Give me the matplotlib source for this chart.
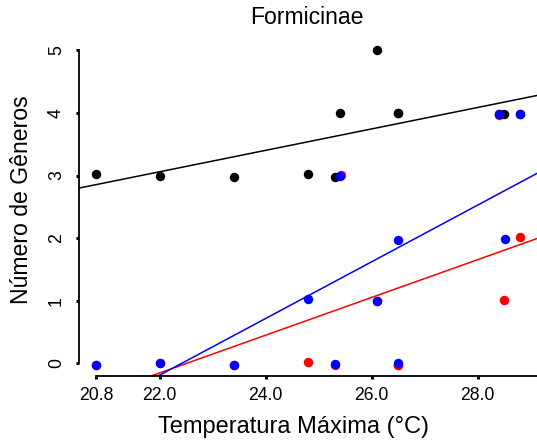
import numpy as np
import matplotlib
matplotlib.use("Agg")
import matplotlib.pyplot as plt

plt.rcParams['font.family'] = ['Liberation Sans', 'DejaVu Sans']

# temperatura maxima por ponto e numero de generos
temp_total = [20.8, 22.0, 23.4, 24.8, 25.3, 25.4, 26.1, 26.5, 26.5, 28.5, 28.4, 28.8]
gen_total = [3.02, 3.00, 2.98, 3.02, 2.97, 4.00, 5.01, 4.00, 4.00, 3.98, 3.98, 3.98]

temp_red = [20.8, 22.0, 23.4, 24.8, 25.3, 25.42, 26.1, 26.5, 26.5, 28.5, 28.4, 28.8]
gen_red = [-0.03, 0.00, -0.03, 0.03, -0.02, 3.01, 1.00, -0.03, -0.03, 1.02, 3.97, 2.02]

temp_blue = [20.8, 22.0, 23.4, 24.8, 25.3, 25.4, 26.1, 26.5, 26.5, 28.52, 28.4, 28.8]
gen_blue = [-0.02, 0.01, -0.02, 1.03, -0.01, 2.99, 0.99, 1.97, 0.00, 1.99, 3.98, 3.98]

xticks = [20.8, 22.0, 24.0, 26.0, 28.0]
yticks = [0, 1, 2, 3, 4, 5]

fig = plt.figure(figsize=(5.37, 4.46), dpi=100)
W, H = 537, 446
ax = fig.add_axes([79/W, 1-376/H, (537-79)/W, (376-37.8)/H])

xlim = (20.48, 29.12)
ylim = (-0.2, 5.2)

series = [(temp_total, gen_total, 'black'),
          (temp_red, gen_red, 'red'),
          (temp_blue, gen_blue, 'blue')]

for xs, ys, c in series:
    ax.plot(xs, ys, 'o', color=c, markersize=6.8, markeredgewidth=0, zorder=3)

# retas de regressao
xx = np.array(xlim)
for xs, ys, c in series:
    b, a = np.polyfit(np.array(xs), np.round(ys), 1)
    ax.plot(xx, a + b*xx, color=c, lw=1.1, zorder=2)

ax.set_xlim(*xlim)
ax.set_ylim(*ylim)

for s in ['top', 'right']:
    ax.spines[s].set_visible(False)
ax.spines['left'].set_bounds(0, 5)
ax.spines['bottom'].set_bounds(20.8, xlim[1])
for s in ['left', 'bottom']:
    ax.spines[s].set_linewidth(1.3)

ax.set_xticks(xticks)
ax.set_xticklabels(['%.1f' % t for t in xticks])
ax.set_yticks(yticks)
ax.set_yticklabels([str(t) for t in yticks], rotation=90, va='center')
ax.tick_params(axis='both', length=2, width=2.2, labelsize=12.7, color='black')
ax.tick_params(axis='x', pad=6)
ax.tick_params(axis='y', pad=8)

fig.text(307/W, 1-18/H, 'Formicinae', ha='center', va='center', fontsize=16.6)
fig.text(294/W, 1-427/H, 'Temperatura Máxima (°C)', ha='center', va='center', fontsize=17)
fig.text(22/W, 1-200/H, 'Número de Gêneros', ha='center', va='center', fontsize=16.6, rotation=90)

fig.savefig('out.png', dpi=100)
